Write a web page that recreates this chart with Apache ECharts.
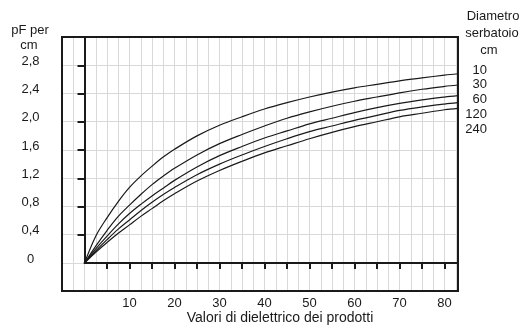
<!DOCTYPE html>
<html>
<head>
<meta charset="utf-8">
<script src="https://cdn.jsdelivr.net/npm/echarts@6/dist/echarts.min.js"></script>
<style>
  html, body { margin: 0; padding: 0; background: #fff; }
  #chart { width: 525px; height: 329px; }
</style>
</head>
<body>
<div id="chart"></div>
<script>
// dielectric constant (x) at which the curves were read
const dielectric = [0, 2.5, 5, 7.5, 10, 12.5, 15, 17.5, 20, 25, 30, 35, 40, 45, 50, 55, 60, 65, 70, 75, 80, 83];

// tank diameter (cm) -> pF per cm
const diameters = ['10', '30', '60', '120', '240'];
const pf10  = [0, 0.38, 0.64, 0.87, 1.07, 1.23, 1.37, 1.50, 1.61, 1.80, 1.95, 2.07, 2.18, 2.27, 2.35, 2.42, 2.48, 2.53, 2.58, 2.62, 2.66, 2.68];
const pf30  = [0, 0.24, 0.46, 0.66, 0.82, 0.97, 1.11, 1.23, 1.34, 1.53, 1.69, 1.82, 1.94, 2.05, 2.14, 2.22, 2.29, 2.35, 2.41, 2.46, 2.50, 2.52];
const pf60  = [0, 0.20, 0.38, 0.55, 0.70, 0.83, 0.95, 1.06, 1.17, 1.36, 1.52, 1.65, 1.77, 1.87, 1.97, 2.05, 2.13, 2.20, 2.26, 2.31, 2.35, 2.37];
const pf120 = [0, 0.17, 0.33, 0.48, 0.61, 0.74, 0.86, 0.97, 1.07, 1.25, 1.40, 1.53, 1.65, 1.76, 1.86, 1.94, 2.02, 2.09, 2.16, 2.21, 2.25, 2.27];
const pf240 = [0, 0.15, 0.29, 0.42, 0.54, 0.66, 0.77, 0.88, 0.98, 1.16, 1.31, 1.44, 1.56, 1.66, 1.76, 1.85, 1.93, 2.00, 2.07, 2.12, 2.17, 2.19];

// tick marks and labels
const xTickValues = [5, 10, 15, 20, 25, 30, 35, 40, 45, 50, 55, 60, 65, 70, 75, 80];
const xLabelValues = [10, 20, 30, 40, 50, 60, 70, 80];
const yTickValues = [0.4, 0.8, 1.2, 1.6, 2.0, 2.4, 2.8];
const yLabelValues = [0, 0.4, 0.8, 1.2, 1.6, 2.0, 2.4, 2.8];

const FONT = 'Liberation Sans, Arial, Helvetica, sans-serif';
const INK = '#1a1a1a';
const GRIDLINE = '#d9d9d9';

const chart = echarts.init(document.getElementById('chart'), null, { renderer: 'canvas' });

const curves = [pf10, pf30, pf60, pf120, pf240];
const series = curves.map((vals, i) => ({
  name: diameters[i],
  type: 'line',
  xAxisIndex: 1,
  yAxisIndex: 1,
  smooth: 0.35,
  showSymbol: false,
  symbol: 'none',
  lineStyle: { color: INK, width: 1.2 },
  data: dielectric.map((x, j) => [x, vals[j]]),
  z: 3
}));

// right-hand legend text
const legendTexts = diameters.map((d, i) => ({
  type: 'text',
  right: 38,
  top: 63.5 + i * 14.8,
  style: { text: d, font: '13px ' + FONT, fill: INK, textAlign: 'right' }
}));

const option = {
  animation: false,
  textStyle: { fontFamily: FONT },
  grid: [
    // outer frame with the light grid
    { left: 62, top: 37, width: 396, height: 254, show: true, borderColor: INK, borderWidth: 2, backgroundColor: 'transparent', z: 4 },
    // plot area from the origin
    { left: 84.5, top: 37, width: 373.5, height: 226 }
  ],
  xAxis: [
    {
      gridIndex: 0, type: 'value', min: -5, max: 83, interval: 2.5,
      axisLine: { show: false }, axisTick: { show: false }, axisLabel: { show: false },
      splitLine: { show: true, showMinLine: false, showMaxLine: false, lineStyle: { color: GRIDLINE, width: 1 } }
    },
    {
      gridIndex: 1, type: 'value', min: 0, max: 83, interval: 5,
      axisLine: { show: true, onZero: false, lineStyle: { color: INK, width: 2 } },
      axisTick: { show: true, length: 6, lineStyle: { color: INK, width: 2 }, customValues: xTickValues },
      axisLabel: {
        show: true, customValues: xLabelValues, margin: 40, verticalAlign: 'middle',
        color: INK, fontSize: 13, fontFamily: FONT
      },
      splitLine: { show: false }
    }
  ],
  yAxis: [
    {
      gridIndex: 0, type: 'value', min: -0.4, max: 3.2, interval: 0.4,
      axisLine: { show: false }, axisTick: { show: false }, axisLabel: { show: false },
      splitLine: { show: true, showMinLine: false, showMaxLine: false, lineStyle: { color: GRIDLINE, width: 1 } }
    },
    {
      gridIndex: 1, type: 'value', min: 0, max: 3.2, interval: 0.4,
      axisLine: { show: true, onZero: false, lineStyle: { color: INK, width: 2 } },
      axisTick: { show: true, length: 7, lineStyle: { color: INK, width: 2 }, customValues: yTickValues },
      axisLabel: {
        show: true, customValues: yLabelValues, margin: 54, align: 'center',
        verticalAlign: 'bottom', lineHeight: 8, color: INK, fontSize: 13, fontFamily: FONT,
        formatter: v => v === 0 ? '0' : v.toFixed(1).replace('.', ',')
      },
      splitLine: { show: false }
    }
  ],
  graphic: [
    { type: 'text', x: 30, y: 24, style: { text: 'pF per', font: '13px ' + FONT, fill: INK, textAlign: 'center' } },
    { type: 'text', x: 29, y: 39, style: { text: 'cm', font: '13px ' + FONT, fill: INK, textAlign: 'center' } },
    { type: 'text', x: 493, y: 10, style: { text: 'Diametro', font: '13px ' + FONT, fill: INK, textAlign: 'center' } },
    { type: 'text', x: 492, y: 27, style: { text: 'serbatoio', font: '13px ' + FONT, fill: INK, textAlign: 'center' } },
    { type: 'text', x: 489, y: 44, style: { text: 'cm', font: '13px ' + FONT, fill: INK, textAlign: 'center' } },
    { type: 'text', x: 280, y: 311, style: { text: 'Valori di dielettrico dei prodotti', font: '14px ' + FONT, fill: INK, textAlign: 'center' } }
  ].concat(legendTexts),
  series: series
};

chart.setOption(option);
</script>
</body>
</html>
